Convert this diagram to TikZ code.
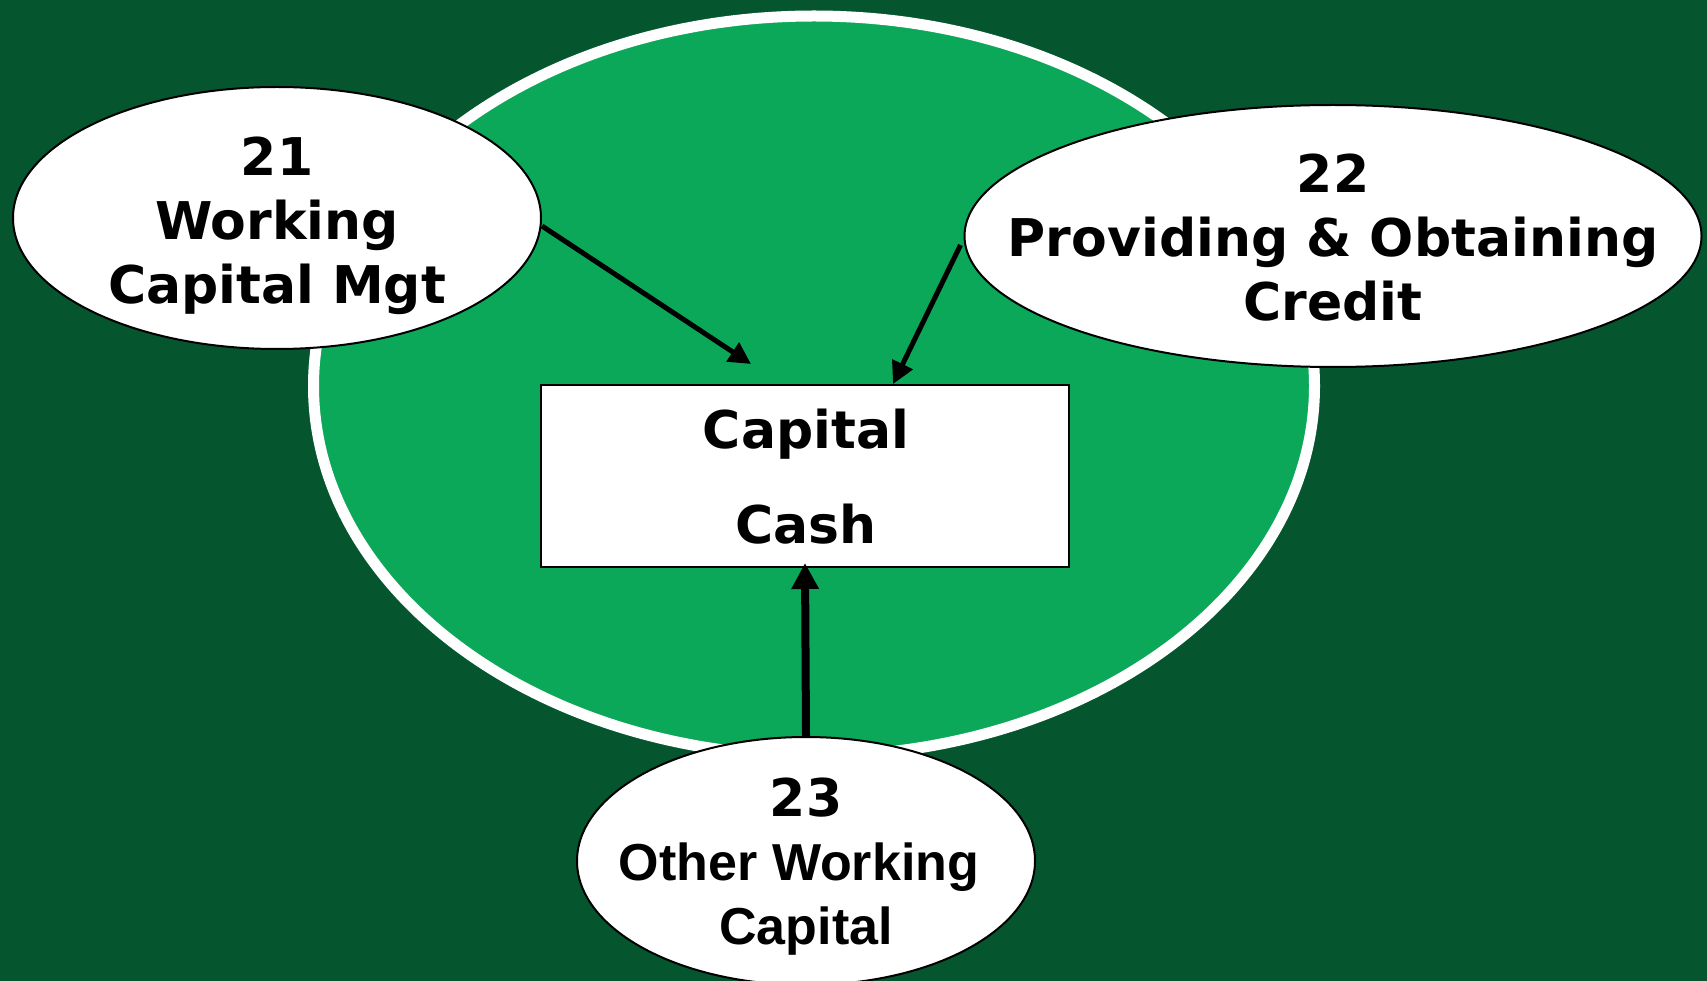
\documentclass[tikz,border=0pt]{standalone}
\usepackage{fontspec}
\setmainfont{DejaVu Sans}
\newfontfamily\vfont{DejaVu Sans}
\newfontfamily\afont{Liberation Sans}
\usetikzlibrary{shapes.geometric,arrows.meta,calc}
\definecolor{bgdark}{RGB}{5,86,47}
\definecolor{lightg}{RGB}{11,168,90}
\tikzset{
  oval/.style={ellipse, draw=black, line width=2pt, fill=white, inner sep=0pt},
  lbl/.style={align=center, font=\vfont\bfseries\fontsize{52}{64}\selectfont, inner sep=0pt},
  conn/.style={line width=5pt, -{Triangle[length=22pt,width=22pt]}},
  connthick/.style={line width=8pt, -{Triangle[length=26pt,width=26pt]}}
}
\begin{document}
\begin{tikzpicture}[x=1pt,y=-1pt]
\fill[bgdark] (0,0) rectangle (1707,981);
\useasboundingbox (0,0) rectangle (1707,981);
% big green ellipse
\node[ellipse, draw=white, line width=11pt, fill=lightg, minimum width=1001pt, minimum height=740pt, inner sep=0pt] (big) at (814,386) {};
% box
\node[draw=black, line width=2pt, fill=white, minimum width=528pt, minimum height=182pt, inner sep=0pt] (box) at (805,476) {};
\node[lbl, font=\vfont\bfseries\fontsize{52}{95}\selectfont] (boxtxt) at (806,477) {Capital\\Cash};
% ovals
\node[oval, minimum width=528pt, minimum height=262pt] (e21) at (277,218) {};
\node[lbl, font=\vfont\bfseries\fontsize{52}{64}\selectfont] (t21) at ($(e21)+(0,8)$) {21\\Working\\Capital Mgt};
\node[oval, minimum width=737pt, minimum height=262pt] (e22) at (1333,236) {};
\node[lbl] (t22) at ($(e22)+(0,2)$) {22\\Providing \& Obtaining\\Credit};
\node[oval, minimum width=458pt, minimum height=248pt] (e23) at (806,861) {};
\node[lbl] (t23) at ($(e23)+(0,6)$) {23\\{\afont\bfseries\fontsize{52}{64}\selectfont Other Working\hbox to 14pt{}}\\{\afont\bfseries\fontsize{52}{64}\selectfont Capital}};
% connectors
\draw[conn] ($(e21.east)+(0,8)$) -- ($(box.north)+(-54,-20)$);
\draw[conn] ($(e22.west)+(-3,9)$) -- ($(box.north)+(88,0)$);
\draw[connthick] (e23.north) -- ($(box.south)+(0,-5)$);
\end{tikzpicture}
\end{document}
